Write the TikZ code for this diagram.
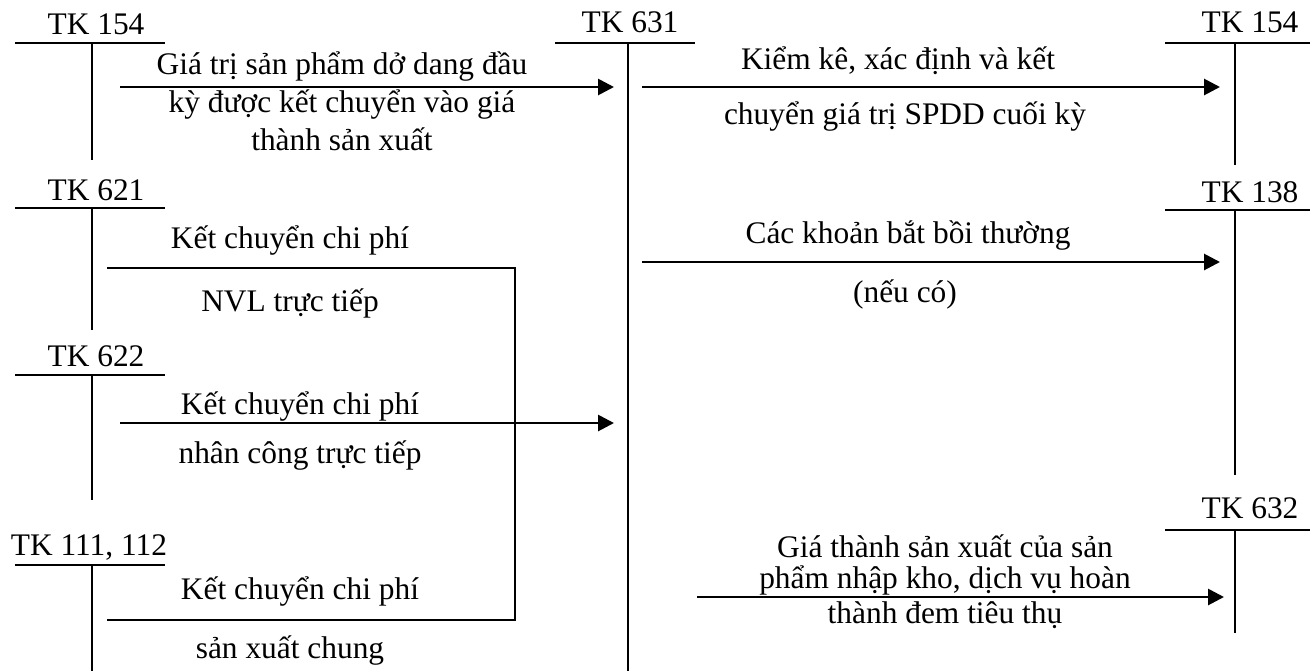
\documentclass[tikz,border=0pt]{standalone}
\usepackage{fontspec}
\setmainfont{Liberation Serif}
\usetikzlibrary{arrows.meta}
\begin{document}
\begin{tikzpicture}[x=0.5pt,y=-0.5pt,
  txt/.style={inner sep=0pt,font=\fontsize{15.7}{18}\selectfont},
  acc/.style={txt},
  tline/.style={line width=1.1pt},
  flow/.style={line width=1.4pt,-{Triangle[length=8pt,width=8pt]}},
  plain/.style={line width=1.1pt}]
\useasboundingbox (0,0) rectangle (1310,671);
% T-accounts: label, bar, stem
\node[acc] (l154) at (96,24) {TK 154};
\coordinate (b154a) at (15,43); \coordinate (b154b) at (165,43);
\coordinate (s154t) at (92,43); \coordinate (s154b) at (92,160);
\node[acc] (l621) at (96,190) {TK 621};
\coordinate (b621a) at (15,208); \coordinate (b621b) at (165,208);
\coordinate (s621t) at (92,208); \coordinate (s621b) at (92,330);
\node[acc] (l622) at (96,356) {TK 622};
\coordinate (b622a) at (15,375); \coordinate (b622b) at (165,375);
\coordinate (s622t) at (92,375); \coordinate (s622b) at (92,500);
\node[acc] (l111) at (89,548) {TK 111, 112};
\coordinate (b111a) at (15,565); \coordinate (b111b) at (165,565);
\coordinate (s111t) at (92,565); \coordinate (s111b) at (92,671);
\node[acc] (l631) at (630,22) {TK 631};
\coordinate (b631a) at (555,43); \coordinate (b631b) at (695,43);
\coordinate (s631t) at (628,43); \coordinate (s631b) at (628,671);
\node[acc] (r154) at (1250,22) {TK 154};
\coordinate (br154a) at (1165,43); \coordinate (br154b) at (1310,43);
\coordinate (sr154t) at (1235,43); \coordinate (sr154b) at (1235,165);
\node[acc] (r138) at (1250,192) {TK 138};
\coordinate (b138a) at (1165,210); \coordinate (b138b) at (1310,210);
\coordinate (s138t) at (1235,210); \coordinate (s138b) at (1235,475);
\node[acc] (r632) at (1250,508) {TK 632};
\coordinate (b632a) at (1165,530); \coordinate (b632b) at (1310,530);
\coordinate (s632t) at (1235,530); \coordinate (s632b) at (1235,633);
\foreach \n in {154,621,622,111,631,138,632}{
  \draw[tline] (b\n a) -- (b\n b);
  \draw[tline] (s\n t) -- (s\n b);}
\draw[tline] (br154a) -- (br154b);
\draw[tline] (sr154t) -- (sr154b);
% arrows
\coordinate (a1s) at (120,87); \coordinate (a1e) at (614,87);
\coordinate (a2s) at (642,87); \coordinate (a2e) at (1220,87);
\coordinate (a3s) at (642,262); \coordinate (a3e) at (1220,262);
\coordinate (a4s) at (120,423); \coordinate (a4e) at (614,423);
\coordinate (a5s) at (697,597); \coordinate (a5e) at (1224,597);
\draw[flow] (a1s) -- (a1e);
\draw[flow] (a2s) -- (a2e);
\draw[flow] (a3s) -- (a3e);
\draw[flow] (a4s) -- (a4e);
\draw[flow] (a5s) -- (a5e);
\coordinate (p1) at (107,268); \coordinate (p2) at (515,268);
\coordinate (p3) at (515,620); \coordinate (p4) at (107,620);
\draw[plain] (p1) -- (p2) -- (p3) -- (p4);
% labels
\node[txt] (t1a) at (342,67) {Giá trị sản phẩm dở dang đầu};
\node[txt] (t1b) at (342,105) {kỳ được kết chuyển vào giá};
\node[txt] (t1c) at (342,139) {thành sản xuất};
\node[txt] (t2a) at (898,61) {Kiểm kê, xác định và kết};
\node[txt] (t2b) at (905,117) {chuyển giá trị SPDD cuối kỳ};
\node[txt] (t3a) at (908,236) {Các khoản bắt bồi thường};
\node[txt] (t3b) at (905,294) {(nếu có)};
\node[txt] (t4a) at (290,241) {Kết chuyển chi phí};
\node[txt] (t4b) at (290,303) {NVL trực tiếp};
\node[txt] (t5a) at (300,406) {Kết chuyển chi phí};
\node[txt] (t5b) at (300,456) {nhân công trực tiếp};
\node[txt] (t6a) at (300,591) {Kết chuyển chi phí};
\node[txt] (t6b) at (290,651) {sản xuất chung};
\node[txt] (t7a) at (945,546) {Giá thành sản xuất của sản};
\node[txt] (t7b) at (945,580) {phẩm nhập kho, dịch vụ hoàn};
\node[txt] (t7c) at (945,615) {thành đem tiêu thụ};
\end{tikzpicture}
\end{document}
